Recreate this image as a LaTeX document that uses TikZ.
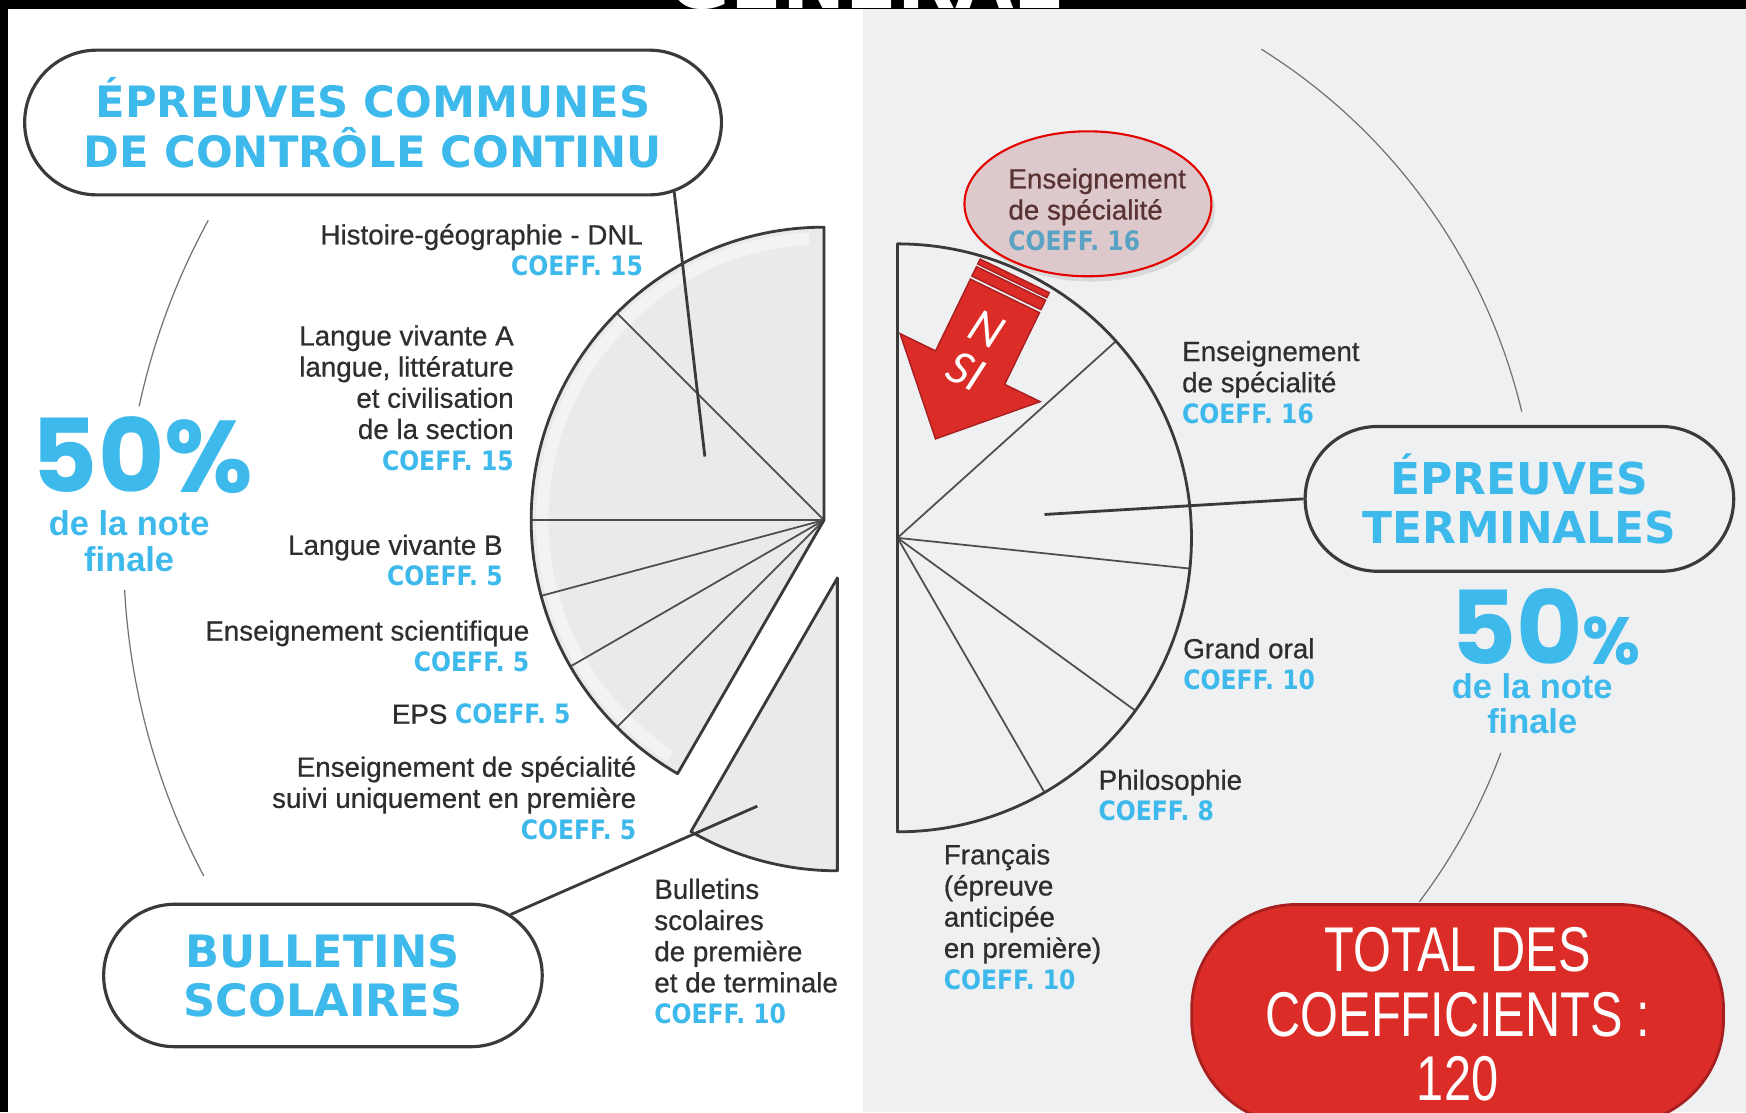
\documentclass[tikz,border=0pt]{standalone}
\usepackage{fontspec}
\setmainfont{Liberation Sans}
\newfontfamily\lblfont[FakeBold=0.6]{Liberation Sans}
\newfontfamily\headfont{DejaVu Sans}
\newfontfamily\coefffont[FakeStretch=0.88]{DejaVu Sans}
\newfontfamily\pctfont{Poppins}
\newfontfamily\totalfont[FakeStretch=0.77]{Liberation Sans}
\newfontfamily\nsifont{Carlito}
\usetikzlibrary{shapes.misc,shapes.geometric,shadows}
\definecolor{bac_blue}{HTML}{3DB9EC}
\definecolor{bac_muted}{HTML}{5AA2C4}
\definecolor{bac_ink}{HTML}{2E2E2E}
\definecolor{bac_panel}{HTML}{EFF0F2}
\definecolor{bac_slice}{HTML}{EAEAED}
\definecolor{bac_red}{HTML}{DC2C27}
\definecolor{bac_darkred}{HTML}{A81F1F}
\definecolor{bac_pink}{HTML}{DDC9CB}
\definecolor{bac_line}{HTML}{3A3A3A}
\newcommand{\coefftxt}[1]{{\coefffont\bfseries\fontsize{7.6}{8.87}\selectfont\color{bac_blue}#1}}
\newcommand{\coeffmuted}[1]{{\coefffont\bfseries\fontsize{7.6}{8.87}\selectfont\color{bac_muted}#1}}
\tikzset{
  lbl/.style={inner sep=0pt, text=bac_ink, font=\lblfont\fontsize{7.9}{8.87}\selectfont},
  lblL/.style={lbl, anchor=north east, align=right},
  lblR/.style={lbl, anchor=north west, align=left},
  headbox/.style={rounded rectangle, draw=bac_line, line width=0.9pt, text=bac_blue,
    font=\headfont\bfseries\fontsize{12.3}{14.3}\selectfont, align=center, inner sep=0pt},
  slice/.style={draw=bac_line, line width=0.8pt, line join=round},
  divider/.style={draw=bac_line!90, line width=0.5pt},
  link/.style={draw=bac_line, line width=0.8pt},
  bigarc/.style={draw=black!55, line width=0.35pt},
  note/.style={text=bac_blue, font=\bfseries\fontsize{9.8}{10.1}\selectfont, align=center, inner sep=0pt},
  nsiarrow/.style={fill=bac_red, draw=bac_darkred, line width=0.4pt}
}

\begin{document}
\begin{tikzpicture}[x=0.011135cm, y=-0.011135cm]
    % Frame: 1568 x 999 units, y going down
    \useasboundingbox (0,0) rectangle (1568,999);
    \clip (0,0) rectangle (1568,999);
    \fill[white] (0,0) rectangle (775,999);
    \fill[bac_panel] (775,0) rectangle (1568,999);
    \fill[black] (0,0) rectangle (1568,8);
    \fill[black] (0,0) rectangle (7,999);
    \node[white, inner sep=0pt, anchor=base, font=\headfont\bfseries\fontsize{21.5}{21.5}\selectfont] (topword) at (777,8) {GÉNÉRAL};

    % Large thin arcs round both halves
    \draw[bigarc] (734,496) ++(-151.4:623) arc[start angle=-151.4, end angle=-167.85, radius=623];
    \draw[bigarc] (734,496) ++(-183.1:623) arc[start angle=-183.1, end angle=-207.8, radius=623];
    \draw[bigarc] (853,492) ++(-58:528) arc[start angle=-58, end angle=-13.4, radius=528];
    \draw[bigarc] (853,492) ++(20.4:528) arc[start angle=20.4, end angle=37, radius=528];

    % Controle continu pie
    \coordinate (ccL) at (740,467);
    \fill[bac_slice] (ccL) -- ++(-90:263) arc[start angle=-90, end angle=-240, radius=263] -- cycle;
    \draw[white, line width=3.5pt, opacity=0.45] (ccL) ++(-93:253) arc[start angle=-93, end angle=-237, radius=253];
    \foreach \a in {-135,-180,-195,-210,-225} {
      \draw[divider] (ccL) -- ++(\a:263);
    }
    \draw[slice] (ccL) -- ++(-90:263) arc[start angle=-90, end angle=-240, radius=263] -- cycle;

    % Bulletins slice, pulled out
    \coordinate (ccB) at (752,519);
    \fill[bac_slice] (ccB) -- ++(-240:263) arc[start angle=-240, end angle=-270, radius=263] -- cycle;
    \draw[slice] (ccB) -- ++(-240:263) arc[start angle=-240, end angle=-270, radius=263] -- cycle;

    % Epreuves terminales pie
    \coordinate (ccR) at (806,483);
    \foreach \a in {-42,6,36,60} {
      \draw[divider] (ccR) -- ++(\a:264);
    }
    \draw[slice] (ccR) -- ++(-90:264) arc[start angle=-90, end angle=90, radius=264] -- cycle;

    % Connectors
    \coordinate (hgIn) at (633,410);
    \coordinate (bulIn) at (680,724);
    \coordinate (spIn) at (938,462);
    \node[headbox, fill=white, minimum width=6.97cm, minimum height=1.448cm] (boxA) at (335,110)
      {ÉPREUVES COMMUNES\\DE CONTRÔLE CONTINU};
    \node[headbox, fill=white, minimum width=4.387cm, minimum height=1.425cm,
      font=\headfont\bfseries\fontsize{12.7}{13.9}\selectfont] (boxB) at (290,876) {BULLETINS\\SCOLAIRES};
    \node[headbox, fill=bac_panel, minimum width=4.287cm, minimum height=1.448cm,
      font=\headfont\bfseries\fontsize{12.5}{13.9}\selectfont] (boxT) at (1364.5,448) {ÉPREUVES\\TERMINALES};
    \draw[link] (boxA.-13.7) -- (hgIn);
    \draw[link] (boxB.18.5) -- (bulIn);
    \draw[link] (boxT.west) -- (spIn);

    % 50 % figures
    \node[text=bac_blue, inner sep=0pt, font=\pctfont\bfseries\fontsize{29}{29}\selectfont] (pctL) at (128,409) {50\%};
    \node[note] (noteL) at (116,486) {de la note\\finale};
    \node[text=bac_blue, inner sep=0pt, font=\pctfont\bfseries\fontsize{29}{29}\selectfont] (pctR) at (1388,563)
      {50{\fontsize{19}{19}\selectfont\%}};
    \node[note] (noteR) at (1376,632) {de la note\\finale};

    % Left labels
    \node[lblL] (hgLbl) at (578,200.5) {Histoire-géographie - DNL\\\coefftxt{COEFF. 15}};
    \node[lblL] (lvaLbl) at (462,291.5) {Langue vivante A\\langue, littérature\\et civilisation\\de la section\\\coefftxt{COEFF. 15}};
    \node[lblL] (lvbLbl) at (452,479.5) {Langue vivante B\\\coefftxt{COEFF. 5}};
    \node[lblL] (esLbl) at (476,556.5) {Enseignement scientifique\\\coefftxt{COEFF. 5}};
    \node[lblL] (epsLbl) at (513,631.5) {EPS \coefftxt{COEFF. 5}};
    \node[lblL] (spe1Lbl) at (572,678.5) {Enseignement de spécialité\\suivi uniquement en première\hspace*{2pt}\\\coefftxt{COEFF. 5}};
    \node[lblR] (bulLbl) at (587,788.5) {Bulletins\\scolaires\\de première\\et de terminale\\\coefftxt{COEFF. 10}};

    % Highlighted speciality
    \node[ellipse, fill=bac_pink, draw=red!90!black, line width=0.6pt, minimum width=2.47cm, minimum height=1.45cm,
      drop shadow={opacity=0.2, shadow xshift=1pt, shadow yshift=-1.5pt}] (spBubble) at (977,183) {};
    \node[lblR, text=black!75!red!60!gray] (spTopLbl) at (905,150.5) {Enseignement\\de spécialité\\\coeffmuted{COEFF. 16}};

    % NSI arrow
    \begin{scope}[shift={(902.5,265.7)}, rotate=-25.9]
      \filldraw[nsiarrow] (-34.5,0) -- (34.5,0) -- (34.5,71.6) -- (70,71.6) -- (0,142.8)
        -- (-70,71.6) -- (-34.5,71.6) -- cycle;
      \filldraw[nsiarrow] (-34.5,-3) rectangle (34.5,-12.5);
      \filldraw[nsiarrow] (-34.5,-15) rectangle (34.5,-20);
      \node[white, inner sep=0pt, rotate=-25.9, align=center, font=\nsifont\itshape\fontsize{14}{13.3}\selectfont] (nsi) at (-2,55) {N\\SI};
    \end{scope}

    % Right labels
    \node[lblR] (spe2Lbl) at (1061,305.5) {Enseignement\\de spécialité\\\coefftxt{COEFF. 16}};
    \node[lblR] (oralLbl) at (1062,572.5) {Grand oral\\\coefftxt{COEFF. 10}};
    \node[lblR] (philoLbl) at (986,690.5) {Philosophie\\\coefftxt{COEFF. 8}};
    \node[lblR] (frLbl) at (847,757.5) {Français\\(épreuve\\anticipée\\en première)\\\coefftxt{COEFF. 10}};

    % Total
    \node[rectangle, rounded corners=1.05cm, fill=bac_red, draw=bac_darkred, line width=0.8pt,
      minimum width=5.32cm, minimum height=2.2cm, text=white, align=center,
      font=\totalfont\fontsize{18}{18.4}\selectfont] (total) at (1309,911) {TOTAL DES\\COEFFICIENTS :\\120};
\end{tikzpicture}
\end{document}
